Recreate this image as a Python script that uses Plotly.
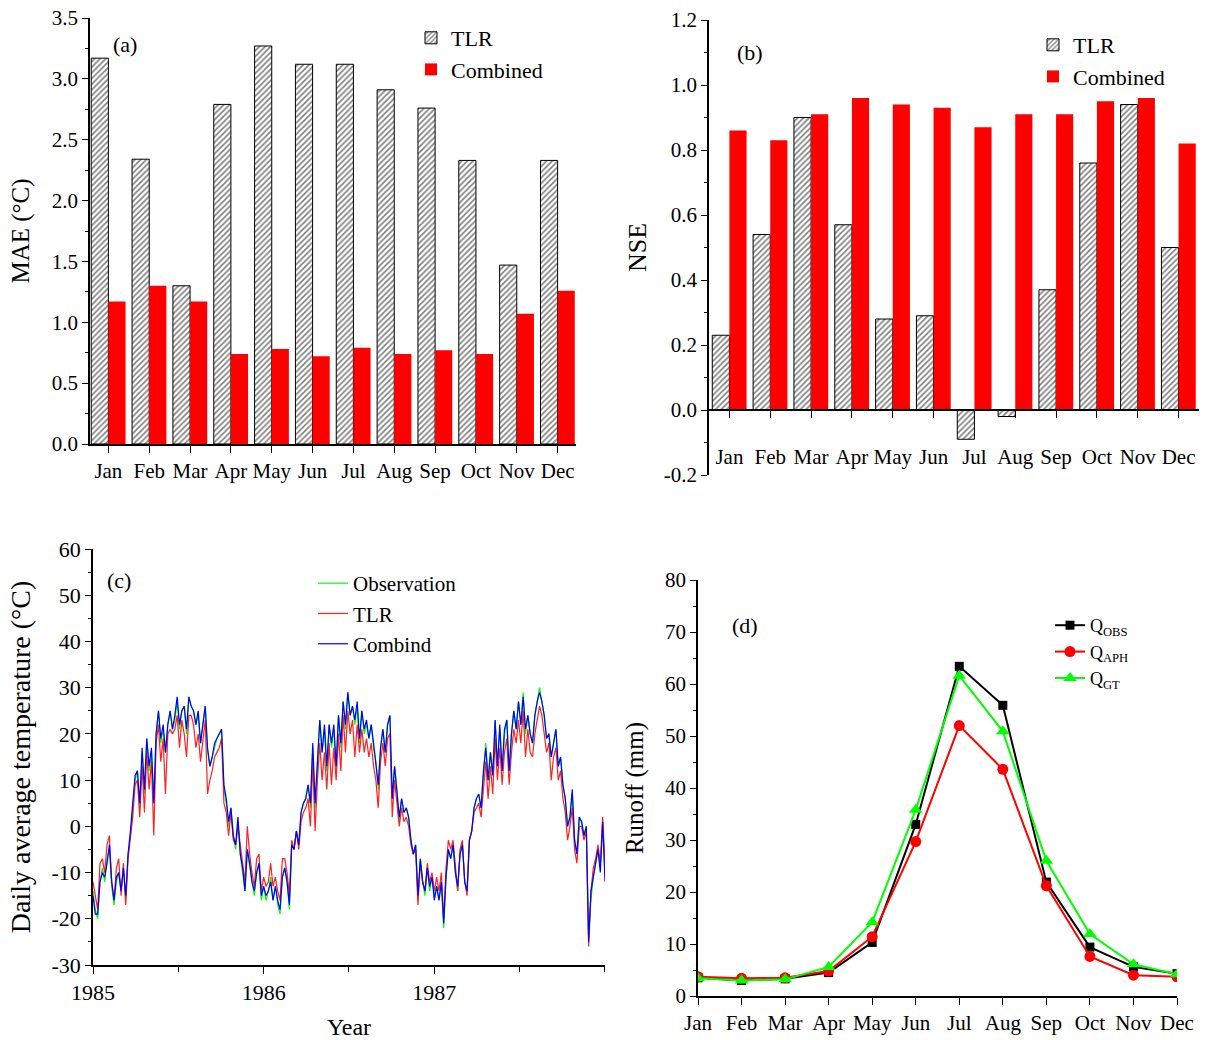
import plotly.graph_objects as go
import pandas as pd

# ---------------- data ----------------
months = ["Jan", "Feb", "Mar", "Apr", "May", "Jun", "Jul", "Aug", "Sep", "Oct", "Nov", "Dec"]

mae_tlr = [3.17, 2.34, 1.30, 2.79, 3.27, 3.12, 3.12, 2.91, 2.76, 2.33, 1.47, 2.33]
mae_comb = [1.17, 1.30, 1.17, 0.74, 0.78, 0.72, 0.79, 0.74, 0.77, 0.74, 1.07, 1.26]

nse_tlr = [0.23, 0.54, 0.90, 0.57, 0.28, 0.29, -0.09, -0.02, 0.37, 0.76, 0.94, 0.50]
nse_comb = [0.86, 0.83, 0.91, 0.96, 0.94, 0.93, 0.87, 0.91, 0.91, 0.95, 0.96, 0.82]

q_obs = [3.5, 3.0, 3.3, 4.5, 10.3, 33.0, 63.4, 55.9, 21.9, 9.4, 5.6, 4.3]
q_aph = [3.7, 3.4, 3.5, 4.8, 11.4, 29.7, 52.0, 43.6, 21.2, 7.6, 4.0, 3.7]
q_gt = [3.4, 3.0, 3.2, 5.6, 14.2, 35.8, 61.6, 50.9, 26.0, 11.9, 6.1, 4.2]

# daily average temperature, read every 5 days from the plot
obs_1985 = [-14, -18, -20, -12, -9, -12, -7, -5, -13, -17,
            -12, -10, -14, -9, -16, -6, -2, 4, 10, 12,
            4, 16, 7, 19, 12, 16, 6, 20, 25, 18,
            21, 16, 22, 25, 21, 23, 27, 21, 25, 26,
            20, 28, 26, 25, 22, 24, 18, 22, 26, 16,
            13, 15, 17, 19, 20, 21, 8, 5, 0, 4,
            -2, -5, 1, -6, -10, -14, -5, -9, -12, -15,
            -10, -8, -16]
tlr_1985 = [-12, -15, -18, -8, -7, -10, -4, -2, -12, -16,
            -9, -7, -15, -8, -17, -7, -3, 2, 9, 10,
            2, 13, 3, 16, 8, 14, -2, 18, 22, 14,
            19, 7, 20, 21, 20, 21, 24, 17, 23, 20,
            15, 24, 24, 22, 17, 20, 14, 19, 23, 7,
            10, 12, 15, 16, 17, 19, 5, 3, -2, 3,
            -3, -4, 0, -4, -8, -12, 0, -6, -10, -13,
            -7, -6, -14]
comb_1985 = [-15, -19, -19, -12, -10, -11, -8, -4, -12, -16,
             -11, -10, -14, -9, -15, -6, -1, 5, 11, 12,
             5, 17, 8, 19, 13, 17, 5, 20, 25, 19,
             22, 16, 22, 25, 21, 24, 28, 22, 25, 26,
             21, 28, 26, 25, 22, 25, 18, 22, 26, 17,
             13, 15, 18, 19, 20, 21, 9, 6, 1, 4,
             -2, -4, 2, -6, -9, -14, -5, -8, -12, -14,
             -10, -8, -15]

obs_1986 = [-13, -16, -14, -11, -16, -13, -17, -19, -11, -9,
            -12, -18, -4, -5, -1, -4, 3, 5, 6, 9,
            4, 17, 4, 13, 23, 16, 21, 12, 22, 17,
            21, 12, 24, 17, 27, 21, 29, 24, 26, 22,
            26, 18, 25, 20, 22, 19, 22, 17, 14, 8,
            17, 21, 16, 22, 24, 6, 13, 8, 1, 6,
            3, 4, 2, -3, -6, -4, -16, -7, -12, -15,
            -9, -14, -11]
tlr_1986 = [-11, -13, -12, -8, -13, -11, -14, -16, -7, -7,
            -10, -15, -3, -5, -1, -5, 1, 3, 4, 6,
            0, 14, -1, 10, 18, 10, 16, 8, 18, 9,
            17, 10, 20, 12, 24, 16, 25, 20, 23, 15,
            22, 16, 21, 16, 19, 15, 18, 13, 10, 4,
            14, 18, 13, 19, 20, 2, 10, 5, 0, 4,
            1, 2, 0, -4, -6, -5, -17, -8, -12, -14,
            -8, -12, -10]
comb_1986 = [-13, -15, -14, -12, -16, -13, -16, -18, -11, -9,
             -12, -17, -4, -5, -1, -4, 3, 5, 6, 9,
             5, 18, 5, 14, 23, 16, 22, 13, 22, 18,
             22, 13, 24, 18, 27, 22, 29, 24, 26, 23,
             27, 19, 25, 21, 23, 19, 22, 18, 14, 9,
             17, 21, 16, 22, 24, 6, 13, 8, 2, 6,
             3, 4, 2, -3, -6, -4, -15, -7, -12, -14,
             -9, -13, -11]

obs_1987 = [-15, -13, -16, -12, -22, -11, -5, -7, -4, -10,
            -14, -6, -4, -12, -14, -3, -1, 4, 6, 7,
            4, 12, 18, 10, 16, 11, 23, 13, 21, 12,
            20, 23, 12, 20, 25, 21, 27, 22, 29, 20,
            24, 20, 18, 24, 27, 30, 27, 24, 19, 20,
            15, 18, 21, 13, 15, 9, 6, 0, 2, 7,
            -3, -6, 2, 1, -2, 0, -24, -16, -11, -8,
            -5, -9, 1, -10]
tlr_1987 = [-14, -11, -14, -10, -20, -9, -3, -5, -3, -9,
            -14, -5, -3, -12, -15, -3, -1, 3, 4, 5,
            2, 9, 14, 6, 13, 7, 19, 10, 17, 9,
            16, 19, 9, 16, 21, 18, 23, 18, 25, 15,
            21, 16, 15, 20, 23, 26, 24, 20, 16, 18,
            10, 15, 17, 10, 12, 6, 3, -3, 0, 4,
            -5, -8, 0, 0, -3, -1, -26, -14, -9, -7,
            -4, -8, 2, -8]
comb_1987 = [-16, -13, -16, -12, -21, -11, -5, -7, -4, -10,
             -13, -6, -4, -12, -14, -3, -1, 4, 6, 7,
             4, 12, 17, 10, 16, 11, 23, 13, 22, 12,
             21, 23, 12, 20, 25, 21, 27, 22, 28, 21,
             24, 20, 18, 24, 27, 29, 27, 24, 19, 20,
             15, 18, 21, 13, 15, 9, 6, 0, 2, 8,
             -3, -6, 2, 1, -2, 0, -25, -14, -11, -8,
             -5, -10, 1, -12]

years = [1985, 1986, 1987]
year_tick_labels = ["1985", "1986", "1987"]

mae_ticks = [0.0, 0.5, 1.0, 1.5, 2.0, 2.5, 3.0, 3.5]
nse_ticks = [-0.2, 0.0, 0.2, 0.4, 0.6, 0.8, 1.0, 1.2]
temp_ticks = [-30, -20, -10, 0, 10, 20, 30, 40, 50, 60]
runoff_ticks = [0, 10, 20, 30, 40, 50, 60, 70, 80]


def dates_for(year, n):
    return [d.strftime("%Y-%m-%d") for d in pd.date_range(f"{year}-01-01", periods=n, freq="5D")]


def join_series(series_by_year):
    xs, ys = [], []
    for yr, vals in zip(years, series_by_year):
        xs += dates_for(yr, len(vals))
        ys += vals
    return xs, ys


t_obs, v_obs = join_series([obs_1985, obs_1986, obs_1987])
t_tlr, v_tlr = join_series([tlr_1985, tlr_1986, tlr_1987])
t_comb, v_comb = join_series([comb_1985, comb_1986, comb_1987])

# ---------------- layout helpers ----------------
W, H = 1210, 1040
FONT = "Liberation Serif, Times New Roman, serif"


def fx(px):
    return px / W


def fy(py):
    return 1 - py / H


RED = "#ff0000"
hatch = dict(shape="/", fgcolor="black", bgcolor="white", size=4, solidity=0.4)

fig = go.Figure()

# ---- panel (a) ----
fig.add_trace(go.Bar(x=months, y=mae_tlr, name="TLR", width=0.42, offset=-0.42,
                     marker=dict(color="white", line=dict(color="black", width=1), pattern=hatch),
                     xaxis="x", yaxis="y", legend="legend"))
fig.add_trace(go.Bar(x=months, y=mae_comb, name="Combined", width=0.42, offset=0,
                     marker=dict(color=RED, line=dict(width=0)),
                     xaxis="x", yaxis="y", legend="legend"))

# ---- panel (b) ----
fig.add_trace(go.Bar(x=months, y=nse_tlr, name="TLR", width=0.42, offset=-0.42,
                     marker=dict(color="white", line=dict(color="black", width=1), pattern=hatch),
                     xaxis="x2", yaxis="y2", legend="legend2"))
fig.add_trace(go.Bar(x=months, y=nse_comb, name="Combined", width=0.42, offset=0,
                     marker=dict(color=RED, line=dict(width=0)),
                     xaxis="x2", yaxis="y2", legend="legend2"))

# ---- panel (c) ----
fig.add_trace(go.Scatter(x=t_obs, y=v_obs, mode="lines", name="Observation",
                         line=dict(color="#00ff00", width=1.2), xaxis="x3", yaxis="y3", legend="legend3"))
fig.add_trace(go.Scatter(x=t_tlr, y=v_tlr, mode="lines", name="TLR",
                         line=dict(color="#ff2020", width=1.2), xaxis="x3", yaxis="y3", legend="legend3"))
fig.add_trace(go.Scatter(x=t_comb, y=v_comb, mode="lines", name="Combind",
                         line=dict(color="#0000ff", width=1.2), xaxis="x3", yaxis="y3", legend="legend3"))

# ---- panel (d) ----
fig.add_trace(go.Scatter(x=months, y=q_obs, mode="lines+markers", name="Q<sub>OBS</sub>",
                         line=dict(color="black", width=2), marker=dict(symbol="square", size=9, color="black"),
                         xaxis="x4", yaxis="y4", legend="legend4"))
fig.add_trace(go.Scatter(x=months, y=q_aph, mode="lines+markers", name="Q<sub>APH</sub>",
                         line=dict(color=RED, width=2), marker=dict(symbol="circle", size=11, color=RED),
                         xaxis="x4", yaxis="y4", legend="legend4"))
fig.add_trace(go.Scatter(x=months, y=q_gt, mode="lines+markers", name="Q<sub>GT</sub>",
                         line=dict(color="#00ff00", width=2), marker=dict(symbol="triangle-up", size=12, color="#00ff00"),
                         xaxis="x4", yaxis="y4", legend="legend4"))

axis_common = dict(showline=True, linecolor="black", linewidth=1.6, showgrid=False, zeroline=False,
                   ticks="outside", tickcolor="black", tickwidth=1.4, mirror=False, automargin=False,
                   tickfont=dict(family=FONT, size=21, color="black"))

b_y0, b_y1 = fy(475), fy(20)
b_zero = b_y0 + (b_y1 - b_y0) * (0.2 / 1.4)


def panel_label(text, px, py):
    return dict(text=text, x=fx(px), y=fy(py), xref="paper", yref="paper", showarrow=False,
                xanchor="center", yanchor="middle", font=dict(family=FONT, size=22))


fig.update_layout(
    width=W, height=H,
    margin=dict(l=0, r=0, t=0, b=0),
    paper_bgcolor="white", plot_bgcolor="white",
    font=dict(family=FONT, color="black"),
    showlegend=True,
    # panel a
    xaxis=dict(axis_common, domain=[fx(90), fx(576)], anchor="y", type="category",
               range=[-0.45, 11.45], ticklen=7),
    yaxis=dict(axis_common, domain=[fy(444), fy(18)], anchor="x", range=[0, 3.5],
               tickmode="array", tickvals=mae_ticks, ticktext=[f"{v:.1f}" for v in mae_ticks],
               ticklen=6,
               minor=dict(dtick=0.25, ticks="outside", ticklen=3, tickcolor="black"),
               title=dict(text="MAE (°C)", font=dict(family=FONT, size=25), standoff=15)),
    # panel b
    xaxis2=dict(axis_common, domain=[fx(709), fx(1199)], anchor="free", position=b_zero,
                type="category", range=[-0.5, 11.5], ticklen=7, ticklabelstandoff=21),
    yaxis2=dict(axis_common, domain=[b_y0, b_y1], anchor="x2", range=[-0.2, 1.2],
                tickmode="array", tickvals=nse_ticks, ticktext=[f"{v:.1f}" for v in nse_ticks],
                ticklen=6,
                minor=dict(dtick=0.1, ticks="outside", ticklen=3, tickcolor="black"),
                title=dict(text="NSE", font=dict(family=FONT, size=26), standoff=10)),
    # panel c
    xaxis3=dict(axis_common, domain=[fx(93), fx(605)], anchor="y3", type="date",
                range=["1985-01-01", "1988-01-01"],
                tickmode="array",
                tickvals=[f"{y}-01-01" for y in years],
                ticktext=year_tick_labels,
                ticklen=7, tickfont=dict(family=FONT, size=22, color="black"),
                minor=dict(tickmode="array",
                           tickvals=[f"{y}-07-02" for y in years] + ["1987-12-31"],
                           ticks="outside", ticklen=5, tickcolor="black"),
                title=dict(text="Year", font=dict(family=FONT, size=24), standoff=14)),
    yaxis3=dict(axis_common, domain=[fy(965), fy(549)], anchor="x3", range=[-30, 60],
                tickmode="array", tickvals=temp_ticks, ticktext=[str(v) for v in temp_ticks],
                ticklen=6, tickfont=dict(family=FONT, size=22, color="black"),
                minor=dict(dtick=5, ticks="outside", ticklen=3, tickcolor="black"),
                title=dict(text="Daily average temperature (°C)", font=dict(family=FONT, size=28), standoff=13)),
    # panel d
    xaxis4=dict(axis_common, domain=[fx(698), fx(1177)], anchor="y4", type="category",
                range=[0, 11], ticklen=7),
    yaxis4=dict(axis_common, domain=[fy(996), fy(580)], anchor="x4", range=[0, 80],
                tickmode="array", tickvals=runoff_ticks, ticktext=[str(v) for v in runoff_ticks],
                ticklen=6,
                minor=dict(dtick=5, ticks="outside", ticklen=3, tickcolor="black"),
                title=dict(text="Runoff (mm)", font=dict(family=FONT, size=25), standoff=14)),
    legend=dict(x=fx(411), y=fy(17), xanchor="left", yanchor="top", bgcolor="rgba(0,0,0,0)",
                font=dict(family=FONT, size=22), itemwidth=30),
    legend2=dict(x=fx(1033), y=fy(24), xanchor="left", yanchor="top", bgcolor="rgba(0,0,0,0)",
                 font=dict(family=FONT, size=22), itemwidth=30),
    legend3=dict(x=fx(313), y=fy(563), xanchor="left", yanchor="top", bgcolor="rgba(0,0,0,0)",
                 font=dict(family=FONT, size=21), itemwidth=30),
    legend4=dict(x=fx(1050), y=fy(607), xanchor="left", yanchor="top", bgcolor="rgba(0,0,0,0)",
                 font=dict(family=FONT, size=18), itemwidth=30),
    annotations=[
        panel_label("(a)", 125, 45),
        panel_label("(b)", 750, 52),
        panel_label("(c)", 119, 580),
        panel_label("(d)", 745, 625),
    ],
)

fig.write_html("out.html", config={"displayModeBar": False},
               post_script="document.body.style.margin='0px';")
